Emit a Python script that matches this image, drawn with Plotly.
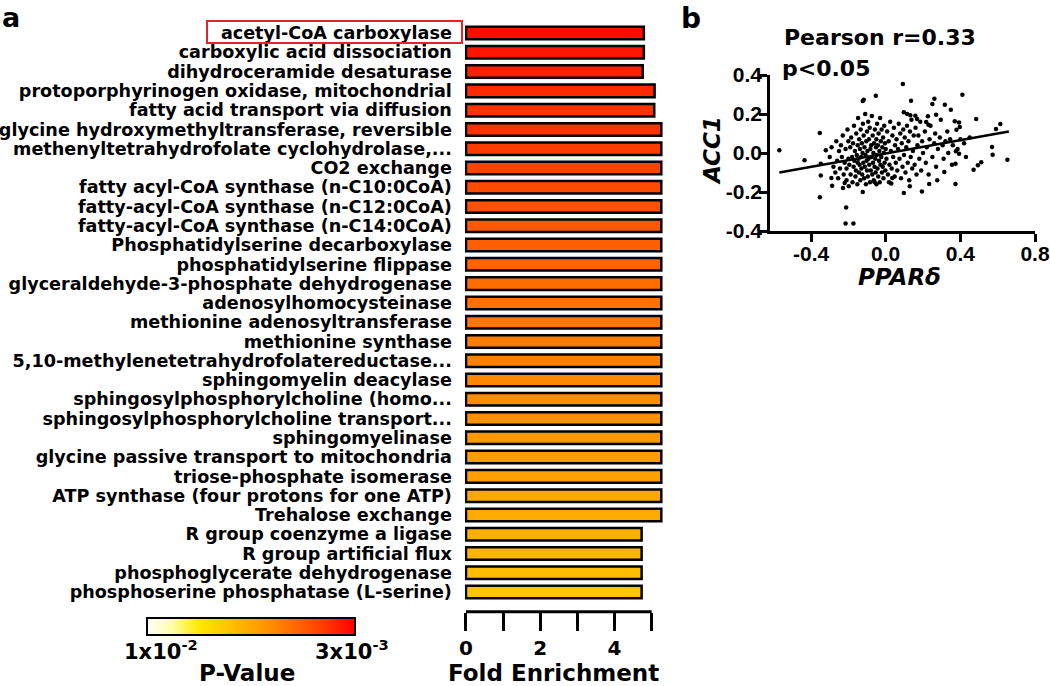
import math
import plotly.graph_objects as go

W, H = 1050, 686

# ---------------- panel a data ----------------
categories = [
    "acetyl-CoA carboxylase",
    "carboxylic acid dissociation",
    "dihydroceramide desaturase",
    "protoporphyrinogen oxidase, mitochondrial",
    "fatty acid transport via diffusion",
    "glycine hydroxymethyltransferase, reversible",
    "methenyltetrahydrofolate cyclohydrolase,...",
    "CO2 exchange",
    "fatty acyl-CoA synthase (n-C10:0CoA)",
    "fatty-acyl-CoA synthase (n-C12:0CoA)",
    "fatty-acyl-CoA synthase (n-C14:0CoA)",
    "Phosphatidylserine decarboxylase",
    "phosphatidylserine flippase",
    "glyceraldehyde-3-phosphate dehydrogenase",
    "adenosylhomocysteinase",
    "methionine adenosyltransferase",
    "methionine synthase",
    "5,10-methylenetetrahydrofolatereductase...",
    "sphingomyelin deacylase",
    "sphingosylphosphorylcholine (homo...",
    "sphingosylphosphorylcholine transport...",
    "sphingomyelinase",
    "glycine passive transport to mitochondria",
    "triose-phosphate isomerase",
    "ATP synthase (four protons for one ATP)",
    "Trehalose exchange",
    "R group coenzyme a ligase",
    "R group artificial flux",
    "phosphoglycerate dehydrogenase",
    "phosphoserine phosphatase (L-serine)",
]
fold_enrichment = [
    4.79, 4.79, 4.76, 5.08, 5.07,
    5.26, 5.26, 5.26, 5.26, 5.26, 5.26, 5.26, 5.26, 5.26, 5.26,
    5.26, 5.26, 5.26, 5.26, 5.26, 5.26, 5.26, 5.26, 5.26, 5.26, 5.26,
    4.73, 4.73, 4.73, 4.73,
]
p_values = [
    0.0031, 0.0032, 0.0033, 0.0034, 0.0035, 0.0035, 0.0036, 0.0037, 0.0038, 0.0039,
    0.0040, 0.0041, 0.0042, 0.0043, 0.0044, 0.0045, 0.0046, 0.0047, 0.0048, 0.0049,
    0.0050, 0.0051, 0.0052, 0.0053, 0.0055, 0.0056, 0.0057, 0.0059, 0.0061, 0.0063,
]
p_scale_low = 0.01      # left end of colour bar
p_scale_high = 0.003    # right end of colour bar
fe_ticks = [0, 1, 2, 3, 4, 5]
fe_tick_labels = ["0", "", "2", "", "4", ""]

# ---------------- panel b data ----------------
scatter_x = [
    # sparse / outlying points
    -0.57, -0.435, -0.353, -0.321, -0.348, -0.348, -0.353, -0.212, -0.215, -0.173,
    -0.123, -0.291, -0.287, -0.229, -0.22, 0.097, 0.035, 0.03, 0.57, 0.573,
    0.652, 0.512, 0.494, 0.471, 0.374, 0.374, 0.314, 0.233, 0.194, 0.129,
    0.376, 0.393, 0.092, 0.411, 0.261, 0.25, 0.136, 0.317, 0.349, 0.27,
    0.097, 0.115, 0.132, 0.159, 0.168, 0.226, 0.217, 0.229, 0.37, 0.393,
    0.397, 0.379, 0.485, 0.614, 0.591, -0.118, -0.053, -0.123, -0.059, 0.018,
    0.276,
    # cluster
    -0.30, -0.29, -0.28, -0.27, -0.265, -0.26, -0.255, -0.25,
    -0.245, -0.24, -0.235, -0.23, -0.225, -0.22, -0.215, -0.21, -0.205, -0.20, -0.20, -0.21,
    -0.198, -0.195, -0.19, -0.188, -0.185, -0.18, -0.178, -0.175, -0.172, -0.17,
    -0.168, -0.165, -0.162, -0.16, -0.158, -0.155, -0.152, -0.15, -0.15,
    -0.148, -0.146, -0.144, -0.142, -0.14, -0.138, -0.136, -0.134, -0.132, -0.13,
    -0.128, -0.126, -0.124, -0.122, -0.12, -0.118, -0.116, -0.114, -0.112, -0.11,
    -0.108, -0.106, -0.104, -0.102, -0.10, -0.10,
    -0.098, -0.096, -0.094, -0.092, -0.09, -0.088, -0.086, -0.084, -0.082, -0.08,
    -0.078, -0.076, -0.074, -0.072, -0.07, -0.068, -0.066, -0.064, -0.062, -0.06,
    -0.058, -0.056, -0.054, -0.052, -0.05, -0.05,
    -0.048, -0.046, -0.044, -0.042, -0.04, -0.038, -0.036, -0.034, -0.032, -0.03,
    -0.028, -0.026, -0.024, -0.022, -0.02, -0.018, -0.016, -0.014, -0.012, -0.01,
    -0.008, -0.006, -0.004, -0.002, 0.0,
    0.004, 0.008, 0.012, 0.016, 0.02, 0.024, 0.028, 0.032, 0.036, 0.04, 0.044, 0.048, 0.05,
    0.054, 0.058, 0.062, 0.066, 0.07, 0.074, 0.078, 0.082, 0.086, 0.09, 0.094, 0.098,
    0.102, 0.106, 0.11, 0.114, 0.118, 0.122, 0.126, 0.13, 0.134, 0.138, 0.142, 0.146, 0.15,
    0.155, 0.16, 0.165, 0.17, 0.175, 0.18, 0.185, 0.19, 0.195, 0.2,
    0.21, 0.215, 0.22, 0.23, 0.235, 0.24, 0.25, 0.26, 0.265, 0.27, 0.28, 0.29, 0.295,
    0.305, 0.31, 0.32, 0.33, 0.335, 0.345, 0.355, 0.36, 0.385, 0.40, 0.42, 0.43, 0.45,
]
scatter_y = [
    # sparse / outlying points
    0.014, -0.037, 0.103, 0.014, -0.055, -0.116, -0.227, -0.279, -0.362, -0.362,
    -0.2, -0.128, -0.168, -0.179, -0.154, -0.205, -0.128, -0.157, 0.031, -0.009,
    -0.034, -0.048, -0.063, -0.086, -0.055, -0.159, -0.097, -0.159, -0.197, -0.171,
    0.009, -0.004, 0.354, 0.299, 0.278, 0.251, 0.268, 0.248, 0.222, 0.196,
    0.209, 0.2, 0.193, 0.191, 0.174, 0.188, 0.159, 0.145, 0.163, 0.157,
    0.133, 0.119, 0.174, 0.149, 0.123, 0.273, 0.294, 0.267, -0.15, -0.15,
    -0.14,
    # cluster
    -0.02, 0.03, -0.07, -0.10, 0.06, -0.04, -0.13, 0.01,
    -0.08, 0.04, -0.02, 0.09, -0.11, -0.05, 0.02, -0.14, 0.12, -0.03, 0.06, -0.08,
    -0.17, -0.06, 0.03, -0.11, 0.08, -0.02, -0.15, 0.05, -0.07, 0.14,
    -0.04, 0.01, -0.12, -0.09, 0.10, -0.01, -0.16, 0.04, -0.05,
    0.18, -0.03, -0.10, 0.07, -0.06, 0.02, -0.14, 0.12, -0.02, -0.08,
    0.05, -0.11, 0.00, 0.15, -0.05, 0.09, -0.13, 0.03, -0.07, 0.20,
    -0.01, -0.16, 0.06, -0.04, 0.11, -0.09,
    0.01, -0.12, 0.16, -0.03, 0.07, -0.06, 0.13, -0.15, 0.02, -0.09,
    0.04, -0.02, 0.19, -0.11, 0.09, -0.05, 0.00, -0.14, 0.05, -0.07,
    0.12, -0.03, -0.10, 0.03, -0.16, 0.07,
    -0.01, 0.15, -0.08, 0.04, -0.12, 0.10, -0.04, 0.01, -0.15, 0.18,
    -0.06, 0.06, -0.02, 0.12, -0.10, 0.03, -0.07, 0.08, -0.13, 0.00,
    0.14, -0.05, 0.05, -0.09, 0.02,
    -0.03, 0.11, -0.11, 0.06, -0.06, 0.16, 0.01, -0.08, 0.09, -0.02, 0.13, -0.12, 0.04,
    -0.05, 0.07, -0.09, 0.02, 0.15, -0.03, 0.10, -0.13, 0.05, -0.07, 0.12, -0.01,
    0.08, -0.10, 0.03, 0.14, -0.05, 0.06, -0.14, 0.11, -0.02, 0.17, -0.08, 0.01, 0.09,
    -0.06, 0.13, -0.11, 0.04, 0.09, -0.03, 0.16, -0.09, 0.06, 0.00,
    0.11, -0.05, 0.03, -0.11, 0.07, 0.14, -0.02, 0.05, 0.10, -0.07, 0.02, 0.08, 0.17,
    0.04, -0.03, 0.06, 0.11, 0.00, 0.07, -0.06, 0.04, 0.02, 0.07, 0.05, -0.02, 0.08,
]
fit_x = [-0.57, 0.66]
fit_y = [-0.100, 0.110]
sx_ticks = [-0.4, 0.0, 0.4, 0.8]
sy_ticks = [-0.4, -0.2, 0.0, 0.2, 0.4]

# ---------------- helpers ----------------
def px(x):
    return x / W

def py(y):
    return 1 - y / H

FONT = "DejaVu Sans"
NUM_FONT = "Liberation Sans"
colorscale = [
    [0.0, "#FFFFFF"],
    [0.12, "#FFFFA8"],
    [0.25, "#FFEA00"],
    [0.40, "#FFC000"],
    [0.55, "#FF9A00"],
    [0.70, "#FF6C00"],
    [0.85, "#FF3C00"],
    [1.0, "#FF0000"],
]
color_vals = [-math.log10(p) for p in p_values]
cmin = -math.log10(p_scale_low)
cmax = -math.log10(p_scale_high)

# bar axis geometry (pixels)
x0_px, unit_px = 466, 37.13
x_lo, x_hi = -0.03, 5.4
bar_top_px, bar_bot_px = 23.4, 611.7

fig = go.Figure()
fig.add_trace(go.Bar(
    x=fold_enrichment, y=categories, orientation="h", width=0.65,
    marker=dict(
        color=color_vals, colorscale=colorscale, cmin=cmin, cmax=cmax,
        line=dict(color="black", width=2.5),
        colorbar=dict(
            orientation="h", x=px(251), xanchor="center", y=py(618), yanchor="top",
            len=208, lenmode="pixels", thickness=17, thicknessmode="pixels",
            outlinewidth=2, outlinecolor="black", showticklabels=False, ticks="",
            xpad=0, ypad=0,
        ),
    ),
    xaxis="x", yaxis="y", hoverinfo="skip",
))

fig.add_trace(go.Scatter(
    x=scatter_x, y=scatter_y, mode="markers",
    marker=dict(color="black", size=4.5),
    xaxis="x2", yaxis="y2", cliponaxis=False, hoverinfo="skip",
))
fig.add_trace(go.Scatter(
    x=fit_x, y=fit_y, mode="lines", line=dict(color="black", width=2.5),
    xaxis="x2", yaxis="y2", hoverinfo="skip",
))

fig.update_layout(
    template="none",
    width=W, height=H, margin=dict(l=0, r=0, t=0, b=0, autoexpand=False),
    paper_bgcolor="white", plot_bgcolor="white", showlegend=False,
    font=dict(family=FONT, color="black"),
    xaxis=dict(
        domain=[px(x0_px + x_lo * unit_px), px(x0_px + x_hi * unit_px)],
        range=[x_lo, x_hi], anchor="y", showgrid=False, zeroline=False, showline=False,
        automargin=False,
        tickmode="array", tickvals=fe_ticks, ticktext=fe_tick_labels, ticks="outside", ticklen=18,
        tickwidth=3, tickcolor="black",
        tickfont=dict(family=FONT, size=20, weight="bold", color="black"),
    ),
    yaxis=dict(
        domain=[py(bar_bot_px), py(bar_top_px)], anchor="x",
        type="category", categoryorder="array", categoryarray=categories,
        tickmode="array", tickvals=categories, ticktext=categories,
        range=[30.02, -0.5], showgrid=False, zeroline=False, showline=False, ticks="",
        automargin=False, ticklabelstandoff=12,
        tickfont=dict(family=FONT, size=17.6, weight="bold", color="black"),
    ),
    xaxis2=dict(
        domain=[px(770), px(1035)], range=[-0.62, 0.8], anchor="y2",
        showgrid=False, zeroline=False, showline=True, linewidth=2.5, linecolor="black",
        automargin=False,
        tickmode="array", tickvals=sx_ticks, ticktext=[f"{v:.1f}" for v in sx_ticks],
        ticks="outside", ticklen=8, tickwidth=2.5, tickcolor="black", ticklabelstandoff=-6,
        tickfont=dict(family=NUM_FONT, size=21, weight="bold", color="black"),
    ),
    yaxis2=dict(
        domain=[py(231), py(75)], range=[-0.4, 0.4], anchor="x2",
        showgrid=False, zeroline=False, showline=True, linewidth=2.5, linecolor="black",
        automargin=False,
        tickmode="array", tickvals=sy_ticks, ticktext=[f"{v:.1f}" for v in sy_ticks],
        ticks="outside", ticklen=8, tickwidth=2.5, tickcolor="black", ticklabelstandoff=-7,
        tickfont=dict(family=NUM_FONT, size=21, weight="bold", color="black"),
    ),
)

# x axis line of bar chart (stops at 5 like the original)
fig.add_shape(type="line", xref="x", yref="paper", x0=0, x1=5,
              y0=py(bar_bot_px), y1=py(bar_bot_px), line=dict(color="black", width=3))
# highlight box around first label
fig.add_shape(type="rect", xref="paper", yref="paper", x0=px(207), x1=px(462),
              y0=py(43), y1=py(21), line=dict(color="#E0252B", width=2))

def ann(text, x, y, size, xanchor="center", yanchor="middle", angle=0, italic=False):
    fig.add_annotation(
        text=text, x=px(x), y=py(y), xref="paper", yref="paper", showarrow=False,
        xanchor=xanchor, yanchor=yanchor, textangle=angle,
        font=dict(family=FONT, size=size, weight="bold", color="black",
                  style="italic" if italic else "normal"),
    )

ann("a", 0, 0, 27, xanchor="left", yanchor="top")
ann("b", 679, 0, 28, xanchor="left", yanchor="top")
ann("Fold Enrichment", 553, 673, 23)
ann("1x10<sup>-2</sup>", 161, 650, 21)
ann("3x10<sup>-3</sup>", 352, 650, 21)
ann("P-Value", 247, 673, 23)
ann("Pearson r=0.33", 880, 37, 22)
ann("p<0.05", 780, 69, 22, xanchor="left")
ann("ACC1", 712, 151, 23, angle=-90, italic=True)
ann("PPARδ", 899, 277, 23, italic=True)

fig.write_html("out.html", config={"displayModeBar": False},
               post_script="document.body.style.margin='0px';")
